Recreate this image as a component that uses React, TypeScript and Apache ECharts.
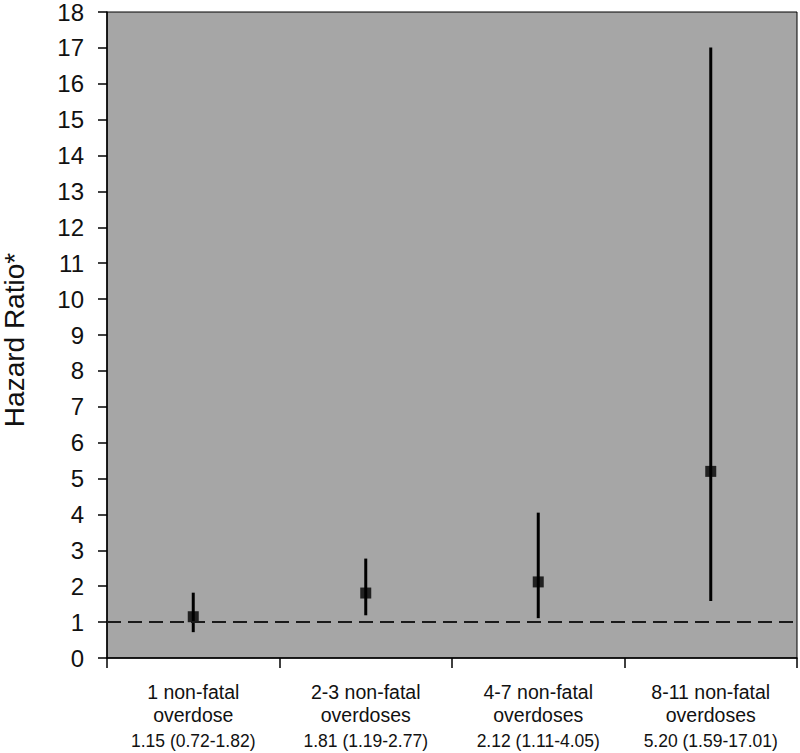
import React, { useEffect, useRef } from "react";
import * as echarts from "echarts";

const categoryLine1 = ["1 non-fatal", "2-3 non-fatal", "4-7 non-fatal", "8-11 non-fatal"];
const categoryLine2 = ["overdose", "overdoses", "overdoses", "overdoses"];
const hazardRatios = [1.15, 1.81, 2.12, 5.2];
const ciLower = [0.72, 1.19, 1.11, 1.59];
const ciUpper = [1.82, 2.77, 4.05, 17.01];
const yMin = 0;
const yMax = 18;
const yInterval = 1;
const referenceValue = 1;
const yAxisTitle = "Hazard Ratio*";

const FONT = "Liberation Sans, Arial, Helvetica, sans-serif";

export default function App() {
  const ref = useRef<HTMLDivElement>(null);

  useEffect(() => {
    document.body.style.margin = "0";
    if (!ref.current) return;
    const chart = echarts.init(ref.current, null, { renderer: "svg" });

    const categories = categoryLine1.map((c, i) => `${c}\n${categoryLine2[i]}`);
    const ciText = hazardRatios.map(
      (v, i) => `${v.toFixed(2)} (${ciLower[i].toFixed(2)}-${ciUpper[i].toFixed(2)})`
    );

    chart.setOption({
      animation: false,
      backgroundColor: "#ffffff",
      grid: {
        left: 107,
        right: 3,
        top: 8,
        bottom: 95,
        show: true,
        backgroundColor: "#a6a6a6",
        borderColor: "#000000",
        borderWidth: 1,
      },
      xAxis: {
        type: "category",
        data: categories,
        boundaryGap: true,
        axisLine: { show: true, lineStyle: { color: "#000", width: 1.5 } },
        axisTick: { show: true, length: 10, lineStyle: { color: "#000", width: 1.5 } },
        axisLabel: {
          interval: 0,
          margin: 22,
          formatter: (_v: string, idx: number) =>
            `{a|${categoryLine1[idx]}}\n{a|${categoryLine2[idx]}}\n{b|${ciText[idx]}}`,
          rich: {
            a: { fontSize: 19.5, lineHeight: 23, fontFamily: FONT, color: "#111" },
            b: { fontSize: 17.5, lineHeight: 30, fontFamily: FONT, color: "#111" },
          },
        },
        splitLine: { show: false },
      },
      yAxis: {
        type: "value",
        min: yMin,
        max: yMax,
        interval: yInterval,
        axisLine: { show: true, lineStyle: { color: "#000", width: 1.5 } },
        axisTick: { show: true, length: 9, lineStyle: { color: "#000", width: 1.5 } },
        axisLabel: { fontSize: 24, fontFamily: FONT, color: "#111", margin: 23 },
        splitLine: { show: false },
      },
      graphic: [
        {
          type: "text",
          x: 14,
          y: 340,
          rotation: Math.PI / 2,
          style: {
            text: yAxisTitle,
            fontSize: 28,
            fontFamily: FONT,
            fill: "#111",
            align: "center",
            verticalAlign: "middle",
          },
        },
      ],
      series: [
        {
          type: "custom",
          z: 2,
          data: ciLower.map((lo, i) => [i, lo, ciUpper[i]]),
          renderItem: (_params: any, api: any) => {
            const x = api.value(0);
            const p1 = api.coord([x, api.value(1)]);
            const p2 = api.coord([x, api.value(2)]);
            return {
              type: "line",
              shape: { x1: p1[0], y1: p1[1], x2: p2[0], y2: p2[1] },
              style: { stroke: "#000", lineWidth: 3 },
            };
          },
        },
        {
          type: "scatter",
          z: 3,
          data: hazardRatios,
          symbol: "rect",
          symbolSize: 11,
          itemStyle: { color: "#000" },
          markLine: {
            silent: true,
            symbol: ["none", "none"],
            label: { show: false },
            lineStyle: { type: [14, 7], color: "#1a1a1a", width: 2 },
            data: [{ yAxis: referenceValue }],
          },
        },
      ],
    });

    return () => chart.dispose();
  }, []);

  return <div ref={ref} style={{ width: 800, height: 753 }} />;
}
